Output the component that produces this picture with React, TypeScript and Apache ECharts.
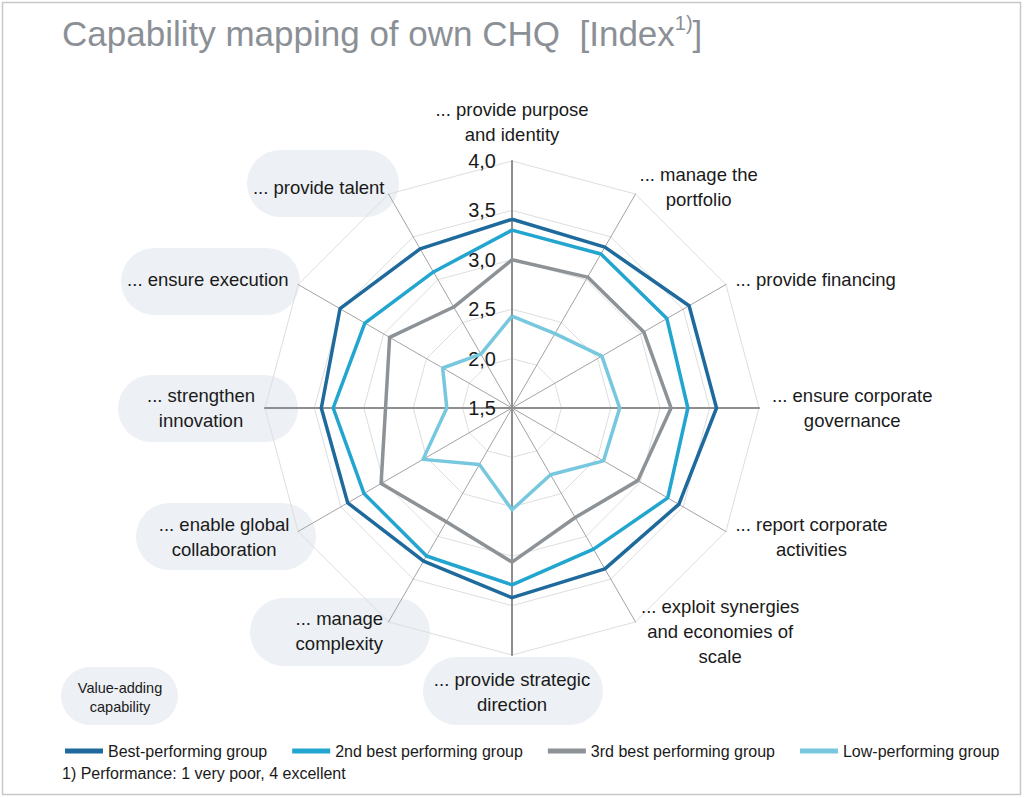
import React, { useEffect, useRef } from "react";
import * as echarts from "echarts";

// ---------- data ----------
// categories in clockwise order, starting at the top
const categories = [
  "... provide purpose\nand identity",
  "... manage the\nportfolio",
  "... provide financing",
  "... ensure corporate\ngovernance",
  "... report corporate\nactivities",
  "... exploit synergies\nand economies of\nscale",
  "... provide strategic\ndirection",
  "... manage\ncomplexity",
  "... enable global\ncollaboration",
  "... strengthen\ninnovation",
  "... ensure execution",
  "... provide talent",
];

const seriesNames = [
  "Best-performing group",
  "2nd best performing group",
  "3rd best performing group",
  "Low-performing group",
];

const bestValues = [3.41, 3.38, 3.57, 3.57, 3.45, 3.38, 3.42, 3.29, 3.42, 3.43, 3.51, 3.36];
const secondValues = [3.3, 3.3, 3.31, 3.28, 3.32, 3.15, 3.29, 3.23, 3.23, 3.31, 3.22, 3.09];
const thirdValues = [3.0, 3.03, 3.04, 3.11, 2.97, 2.78, 3.06, 2.83, 3.03, 2.78, 2.93, 2.68];
const lowValues = [2.43, 2.37, 2.55, 2.59, 2.57, 2.28, 2.53, 2.16, 2.54, 2.16, 2.31, 2.13];

const axisTicks = [1.5, 2.0, 2.5, 3.0, 3.5, 4.0];

const titleText = "Capability mapping of own CHQ  [Index";
const titleSup = "1)";
const footnote = "1) Performance: 1 very poor, 4 excellent";
const boxLabel = "Value-adding\ncapability";

// ---------- styles ----------
const colors = ["#1f6a9c", "#22a5cf", "#8d9297", "#77c8de"];
const SANS = '"Liberation Sans", Arial, sans-serif';
const nameGaps = [14, 8, 11, 13, 11, 11, 12, 11, 10, 10, 11, 8];
const PILL = "#edf0f4";
const pills = [
  { x: 247, y: 150, w: 152, h: 67 },
  { x: 121, y: 248, w: 179, h: 67 },
  { x: 118, y: 375, w: 180, h: 67 },
  { x: 136, y: 503, w: 180, h: 67 },
  { x: 250, y: 598, w: 180, h: 68 },
  { x: 423, y: 657, w: 180, h: 68 },
];

export default function App() {
  const ref = useRef<HTMLDivElement>(null);

  useEffect(() => {
    if (!ref.current) return;
    const chart = echarts.init(ref.current, null, { renderer: "svg" });

    const n = categories.length;
    // ECharts lays indicators counter-clockwise; reorder so the chart reads clockwise
    const order = categories.map((_, i) => (n - i) % n);
    const min = axisTicks[0];
    const max = axisTicks[axisTicks.length - 1];

    const indicator = order.map((k, j) => ({
      name: categories[k],
      min,
      max,
      nameGap: nameGaps[k],
      axisLabel: { show: j === 0 },
    }));

    const groups = [bestValues, secondValues, thirdValues, lowValues];

    const option: any = {
      animation: false,
      color: colors,
      legend: {
        data: seriesNames,
        left: 60,
        top: 738,
        width: 960,
        icon: "rect",
        itemWidth: 38,
        itemHeight: 5,
        itemGap: 25,
        textStyle: { fontSize: 16, fontFamily: SANS, color: "#1a1a1a" },
      },
      radar: [
        {
          center: [512, 408],
          radius: 247,
          startAngle: 90,
          shape: "polygon",
          splitNumber: axisTicks.length - 1,
          indicator,
          axisName: {
            color: "#1a1a1a",
            fontSize: 18.5,
            fontFamily: SANS,
            lineHeight: 25,
            formatter: (name: string) =>
              name
                .split("\n")
                .map((l) => `{c|${l}}`)
                .join("\n"),
            rich: {
              c: {
                align: "center",
                fontSize: 18.5,
                fontFamily: SANS,
                color: "#1a1a1a",
                lineHeight: 25,
              },
            },
          },
          axisLine: { lineStyle: { color: "#a3a3a3", width: 1 } },
          splitLine: { lineStyle: { color: "#dedede", width: 1 } },
          splitArea: { show: false },
          axisTick: { show: false },
          axisLabel: {
            show: false,
            color: "#1a1a1a",
            fontSize: 20,
            fontFamily: SANS,
            margin: 16,
            padding: [8, 0, 0, 0],
            formatter: (v: number) => Number(v).toFixed(1).replace(".", ","),
          },
        },
        {
          center: [512, 408],
          radius: 247,
          startAngle: 90,
          shape: "polygon",
          splitNumber: 1,
          indicator: [0, 1, 2, 3].map(() => ({ name: "", min: 0, max: 1 })),
          axisName: { show: false },
          axisLine: { lineStyle: { color: "#8e8e8e", width: 2 } },
          splitLine: { show: false },
          splitArea: { show: false },
          axisTick: { show: false },
          axisLabel: { show: false },
        },
      ],
      series: seriesNames.map((name, i) => ({
        type: "radar",
        radarIndex: 0,
        name,
        symbol: "none",
        z: 5 - i,
        lineStyle: { color: colors[i], width: 3.5 },
        itemStyle: { color: colors[i] },
        data: [{ name, value: order.map((k) => groups[i][k]) }],
      })),
      graphic: [
        {
          type: "rect",
          shape: { x: 2.5, y: 2.5, width: 1018, height: 792 },
          style: { fill: "none", stroke: "#c8c8c8", lineWidth: 1.5 },
        },
        {
          type: "text",
          x: 62,
          y: 13,
          style: {
            text: `{t|${titleText}}{s|${titleSup}}{t|]}`,
            rich: {
              t: { fontSize: 35, fontFamily: SANS, fill: "#8b9096", lineHeight: 40 },
              s: { fontSize: 20, fontFamily: SANS, fill: "#8b9096", lineHeight: 22, verticalAlign: "top" },
            },
          },
        },
        ...pills.map((p) => ({
          type: "rect",
          z: -1,
          shape: { x: p.x, y: p.y, width: p.w, height: p.h, r: p.h / 2 },
          style: { fill: PILL },
        })),
        {
          type: "rect",
          z: -1,
          shape: { x: 61, y: 667, width: 117, height: 58, r: 29 },
          style: { fill: PILL },
        },
        {
          type: "text",
          x: 120,
          y: 697,
          style: {
            text: boxLabel,
            fontSize: 14.5,
            fontFamily: SANS,
            fill: "#1a1a1a",
            lineHeight: 19,
            align: "center",
            verticalAlign: "middle",
          },
        },
        {
          type: "text",
          x: 62,
          y: 773,
          style: {
            text: footnote,
            fontSize: 16,
            fontFamily: SANS,
            fill: "#1a1a1a",
            verticalAlign: "middle",
          },
        },
      ],
    };

    chart.setOption(option);
    return () => chart.dispose();
  }, []);

  return (
    <div
      ref={ref}
      style={{ position: "absolute", left: 0, top: 0, width: 1024, height: 798, background: "#fff" }}
    />
  );
}
